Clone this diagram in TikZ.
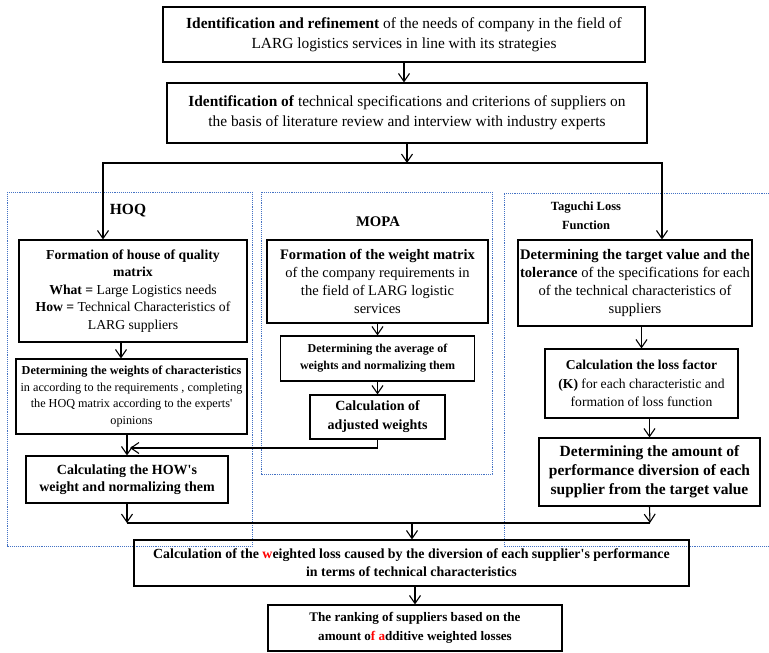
\documentclass[tikz,border=0pt]{standalone}
\usepackage{fontspec}
\setmainfont{Liberation Serif}
\definecolor{panelblue}{RGB}{68, 114, 196}
\definecolor{markred}{RGB}{255, 0, 0}
\usetikzlibrary{arrows.meta, positioning}
\newcommand{\fsz}[2]{\fontsize{#1}{#2}\selectfont}

\begin{document}
\begin{tikzpicture}[x=1pt, y=-1pt,
    stepbox/.style={draw, line width=1.1pt, align=center, inner sep=0pt},
    flow/.style={-{Straight Barb[length=8pt, width=11pt]}, line width=1.1pt},
    twoway/.style={{Straight Barb[length=8pt, width=11pt]}-{Straight Barb[length=8pt, width=11pt]}, line width=1.1pt},
    panel/.style={draw=panelblue, densely dotted, line width=0.9pt},
    paneltitle/.style={font=\bfseries, align=center}]
    \useasboundingbox (0, 0) rectangle (769, 653);

    % method panels
    \draw[panel] (7, 192) rectangle (252, 546);
    \draw[panel] (261, 192) rectangle (492, 474);
    \draw[panel] (769, 193) -- (504, 193) -- (504, 546) -- (769, 546);
    \node[paneltitle, font=\bfseries\fsz{15.5}{18}] (hoqT) at (128, 211) {HOQ};
    \node[paneltitle, font=\bfseries\fsz{14.7}{18}] (mopaT) at (378, 222) {MOPA};
    \node[paneltitle, font=\bfseries\fsz{12.5}{19}] (tagT) at (586, 216) {Taguchi Loss\\Function};

    % common steps
    \node[stepbox, minimum width=482, minimum height=55, font=\fsz{15.4}{20}] (top1) at (404, 34.5)
        {\textbf{Identification and refinement} of the needs of company in the field of\\LARG logistics services in line with its strategies};
    \node[stepbox, minimum width=480, minimum height=60, font=\fsz{15.4}{20}] (top2) at (407, 113)
        {\textbf{Identification of} technical specifications and criterions of suppliers on\\the basis of literature review and interview with industry experts};

    % HOQ
    \node[stepbox, minimum width=228, minimum height=102, font=\fsz{13.7}{17.5}] (hoq1) at (133, 291)
        {\textbf{Formation of house of quality}\\\textbf{matrix}\\\textbf{What =} Large Logistics needs\\\textbf{How =} Technical Characteristics of\\LARG suppliers};
    \node[stepbox, minimum width=231, minimum height=75, font=\fsz{12.2}{16.7}] (hoq2) at (131.5, 396.5)
        {\textbf{Determining the weights of characteristics}\\in according to the requirements , completing\\the HOQ matrix according to the experts\textquotesingle\\opinions};
    \node[stepbox, minimum width=202, minimum height=47, font=\bfseries\fsz{14}{17.5}] (hoq3) at (127, 479.5)
        {Calculating the HOW\textquotesingle s\\weight and normalizing them};

    % MOPA
    \node[stepbox, minimum width=221, minimum height=83, font=\fsz{14.5}{18}] (mopa1) at (377.5, 281.5)
        {\textbf{Formation of the weight matrix}\\of the company requirements in\\the field of LARG logistic\\services};
    \node[stepbox, minimum width=194, minimum height=45, font=\bfseries\fsz{12}{17}] (mopa2) at (377.5, 358.5)
        {Determining the average of\\weights and normalizing them};
    \node[stepbox, minimum width=135, minimum height=44, font=\bfseries\fsz{14}{19}] (mopa3) at (377.5, 417)
        {Calculation of\\adjusted weights};

    % Taguchi
    \node[stepbox, minimum width=234, minimum height=86, font=\fsz{14.6}{18}] (tag1) at (635, 283)
        {\textbf{Determining the target value and the}\\\textbf{tolerance} of the specifications for each\\of the technical characteristics of\\suppliers};
    \node[stepbox, minimum width=193, minimum height=69, font=\fsz{13.6}{18.5}] (tag2) at (641.5, 383.5)
        {\textbf{Calculation the loss factor}\\\textbf{(K)} for each characteristic and\\formation of loss function};
    \node[stepbox, minimum width=221, minimum height=68, font=\bfseries\fsz{15.5}{19}] (tag3) at (649.5, 472)
        {Determining the amount of\\performance diversion of each\\supplier from the target value};

    % final steps
    \node[stepbox, minimum width=555, minimum height=46, font=\bfseries\fsz{13.9}{18}] (loss) at (411.5, 563)
        {Calculation of the \textcolor{markred}{w}eighted loss caused by the diversion of each supplier\textquotesingle s performance\\in terms of technical characteristics};
    \node[stepbox, minimum width=294, minimum height=46, font=\bfseries\fsz{13.1}{19}] (rank) at (415, 628)
        {The ranking of suppliers based on the\\amount o\textcolor{markred}{f a}dditive weighted losses};

    % connectors
    \coordinate (forkL) at (103, 163);
    \coordinate (forkR) at (662, 163);
    \coordinate (join) at (130, 448);
    \coordinate (mergeL) at (127, 523);
    \coordinate (mergeR) at (650, 523);
    \coordinate (merge) at (412, 523);
    \draw[flow] (top1.south) -- (top1.south |- top2.north);
    \draw[flow] (top2.south) -- (top2.south |- forkL);
    \draw[twoway] (forkL |- hoq1.north) -- (forkL) -- (forkR) -- (forkR |- tag1.north);
    \draw[flow] ([xshift=-12pt]hoq1.south) -- ([xshift=-12pt]hoq1.south |- hoq2.north);
    \draw[flow] (hoq2.south -| hoq3.north) -- (hoq3.north);
    \draw[flow] (mopa1.south) -- (mopa2.north);
    \draw[flow] (mopa2.south) -- (mopa3.north);
    \draw[flow] (mopa3.south) |- (join);
    \draw[flow] (tag1.south -| tag2.north) -- (tag2.north);
    \draw[flow] (tag2.south -| tag3.north) -- (tag3.north);
    \draw[flow] (hoq3.south) -- (mergeL);
    \draw[flow] (tag3.south) -- (mergeR);
    \draw[line width=1.1pt] (mergeL) -- (mergeR);
    \draw[flow] (merge) -- (merge |- loss.north);
    \draw[flow] (loss.south -| rank.north) -- (rank.north);
\end{tikzpicture}
\end{document}
